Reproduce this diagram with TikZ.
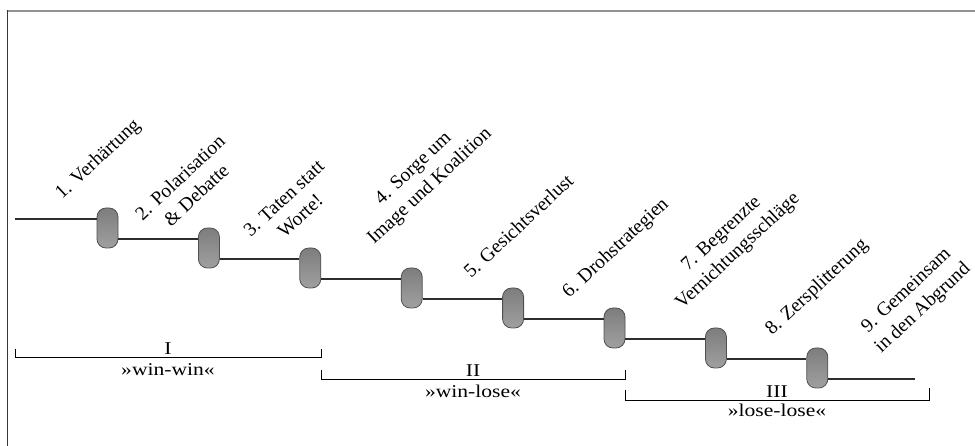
\documentclass[tikz,border=0pt]{standalone}
\usepackage{fontspec}
\setmainfont{Liberation Serif}
\newfontfamily\widefont[FakeStretch=1.2]{Liberation Serif}
\definecolor{pilltop}{RGB}{125,125,125}
\definecolor{pillbot}{RGB}{160,160,160}
\definecolor{pilledge}{RGB}{80,80,80}
\definecolor{linec}{RGB}{45,45,45}
\definecolor{framegray}{RGB}{145,145,145}
\definecolor{frameleft}{RGB}{55,55,55}

\begin{document}

\begin{tikzpicture}[x=1pt,y=-1pt,
  pill/.style={draw=pilledge, line width=0.8pt, top color=pilltop, bottom color=pillbot,
    rounded corners=9pt, minimum width=21pt, minimum height=40pt, inner sep=0pt},
  conn/.style={draw=linec, line width=1.2pt},
  brk/.style={draw=black, line width=1pt},
  lab/.style={rotate=43, font=\fontsize{19.5}{24}\selectfont, align=center, inner sep=0pt},
  phase/.style={font=\widefont\fontsize{18}{20}\selectfont, inner sep=0pt, anchor=base}
]
\useasboundingbox (0,0) rectangle (975,446);
\fill[white] (0,0) rectangle (975,446);
% frame
\draw[framegray, line width=2pt] (7,11) -- (975,11);
\draw[frameleft, line width=1.4pt] (7.5,10) -- (7.5,446);

% pills
\foreach \k in {1,...,8}{
  \node[pill] (p\k) at ({107.5+101.4*(\k-1)}, {228+20*(\k-1)}) {};
}
% connectors
\coordinate (start) at (15,219);
\coordinate (finish) at (915,379);
\draw[conn] (start) -- ([yshift=9pt]p1.west);
\foreach \a/\b in {1/2,2/3,3/4,4/5,5/6,6/7,7/8}{
  \draw[conn] ([yshift=-11pt]p\a.east) -- ([yshift=9pt]p\b.west);
}
\draw[conn] ([yshift=-11pt]p8.east) -- (finish);

% stage labels
\node[lab, anchor=base west] (l1) at (62,200) {1. Verhärtung};
\node[lab] (l2) at (188,186) {2. Polarisation\\\& Debatte};
\node[lab] (l3) at (292,207) {3. Taten statt\\Worte!};
\node[lab] (l4) at (422,178) {4. Sorge um\\Image und Koalition};
\node[lab, anchor=base west] (l5) at (471,279) {5. Gesichtsverlust};
\node[lab, anchor=base west] (l6) at (569,299) {6. Drohstrategien};
\node[lab] (l7) at (730,243) {7. Begrenzte\\Vernichtungsschläge};
\node[lab, anchor=base west] (l8) at (772,336) {8. Zersplitterung};
\node[lab] (l9) at (915,300) {9. Gemeinsam\\in den Abgrund};

% brackets
\coordinate (b1a) at (15,349); \coordinate (b1b) at (15,358);
\coordinate (b1c) at (321,358); \coordinate (b1d) at (321,349);
\coordinate (b2a) at (321,370); \coordinate (b2b) at (321,380);
\coordinate (b2c) at (625,380); \coordinate (b2d) at (625,370);
\coordinate (b3a) at (625,390); \coordinate (b3b) at (625,400);
\coordinate (b3c) at (929,400); \coordinate (b3d) at (929,388);
\draw[brk] (b1a) -- (b1b) -- (b1c) -- (b1d);
\draw[brk] (b2a) -- (b2b) -- (b2c) -- (b2d);
\draw[brk] (b3a) -- (b3b) -- (b3c) -- (b3d);

\node[phase] (r1) at (168,355) {I};
\node[phase] (w1) at (168,375) {»win-win«};
\node[phase] (r2) at (473,377) {II};
\node[phase] (w2) at (473,397) {»win-lose«};
\node[phase] (r3) at (777,397) {III};
\node[phase] (w3) at (777,417) {»lose-lose«};
\end{tikzpicture}

\end{document}
